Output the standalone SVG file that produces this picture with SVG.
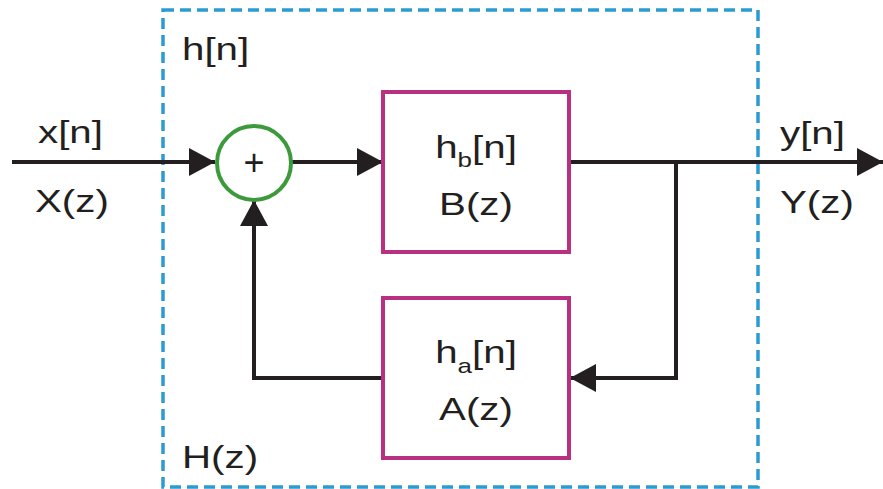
<svg xmlns="http://www.w3.org/2000/svg" width="883" height="489" viewBox="0 0 883 489">
<defs>
<style>
.t{font-family:"Liberation Sans",Arial,sans-serif;font-size:31px;fill:#231f20}
.sub{font-size:20px}
.c{text-anchor:middle}
.ln{fill:none;stroke:#231f20;stroke-width:4}
.blk{fill:#fff;stroke:#b8307f;stroke-width:4}
</style>
<marker id="ah" markerUnits="userSpaceOnUse" markerWidth="26" markerHeight="28" refX="26" refY="14" orient="auto" viewBox="0 0 26 28">
<path d="M0,0 L26,14 L0,28 z" fill="#231f20"/>
</marker>
</defs>
<rect width="883" height="489" fill="#fff"/>
<g id="frame">
<rect x="163" y="10" width="595" height="477" fill="none" stroke="#2b9bd1" stroke-width="3.5" stroke-dasharray="11 6"/>
<text class="t" transform="translate(182,60) scale(1.3,1)">h[n]</text>
<text class="t" transform="translate(182,468) scale(1.3,1)">H(z)</text>
</g>
<g id="connectors">
<path class="ln" d="M12,162 L215,162" marker-end="url(#ah)"/>
<path class="ln" d="M292,162 L383,162" marker-end="url(#ah)"/>
<path class="ln" d="M569,162 L883,162" marker-end="url(#ah)"/>
<path class="ln" d="M676,162 L676,378 L570,378" marker-end="url(#ah)"/>
<path class="ln" d="M383,378 L254,378 L254,200" marker-end="url(#ah)"/>
</g>
<g id="input">
<text class="t" transform="translate(38,143) scale(1.3,1)">x[n]</text>
<text class="t" transform="translate(35,212) scale(1.3,1)">X(z)</text>
</g>
<g id="output">
<text class="t" transform="translate(780,144) scale(1.3,1)">y[n]</text>
<text class="t" transform="translate(780,213) scale(1.3,1)">Y(z)</text>
</g>
<g id="sum">
<circle cx="254" cy="163" r="37" fill="#fff" stroke="#3c9a3c" stroke-width="4"/>
<text class="t c" x="254" y="175" style="font-size:36px">+</text>
</g>
<g id="blockB">
<rect class="blk" x="383" y="92" width="186" height="160"/>
<text class="t c" transform="translate(476,158) scale(1.3,1)">h<tspan class="sub" dy="9">b</tspan><tspan dy="-9">[n]</tspan></text>
<text class="t c" transform="translate(476,215) scale(1.3,1)">B(z)</text>
</g>
<g id="blockA">
<rect class="blk" x="383" y="298" width="186" height="160"/>
<text class="t c" transform="translate(476,363) scale(1.3,1)">h<tspan class="sub" dy="10">a</tspan><tspan dy="-10">[n]</tspan></text>
<text class="t c" transform="translate(476,420) scale(1.3,1)">A(z)</text>
</g>
</svg>
